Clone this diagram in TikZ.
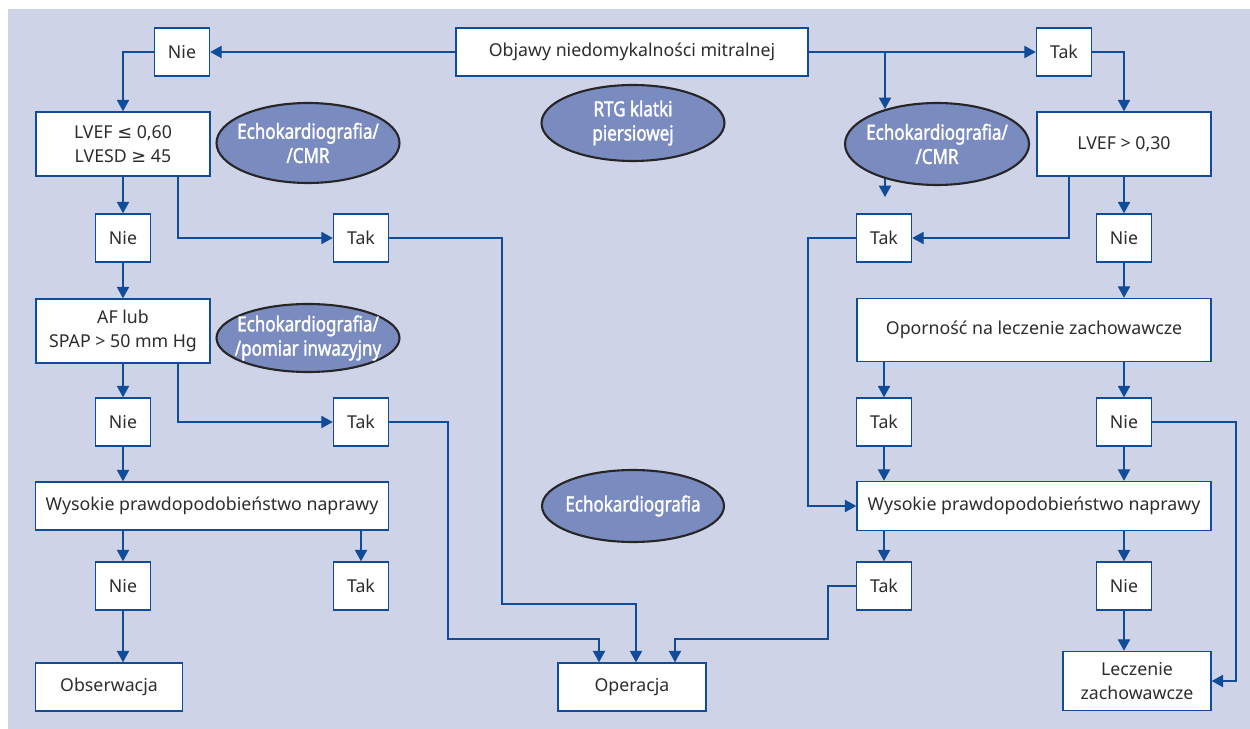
\documentclass[tikz,border=0pt]{standalone}
\usepackage{fontspec}
\setmainfont{Noto Sans}
\newfontfamily\ovalfont[FakeStretch=0.82,FakeBold=1.6]{Noto Sans}
\newfontfamily\symfont{DejaVu Sans}
\usepackage{tikz}
\usetikzlibrary{arrows.meta, shapes}
\usetikzlibrary{calc}
\definecolor{tlo}{RGB}{206,211,232}
\definecolor{linia}{RGB}{16,76,152}
\definecolor{owal}{RGB}{122,139,191}
\definecolor{tekst}{RGB}{45,45,45}
\tikzset{>={Triangle[width=7pt,length=6.5pt]}}

\begin{document}
\begin{tikzpicture}[x=0.02cm,y=-0.02cm,font=\fontsize{10.1}{14}\selectfont]
		\tikzstyle{box}=[draw=linia,fill=white,text=tekst,line width=0.85pt,
			minimum height=0.96cm,inner sep=0pt,align=center]
		\tikzstyle{yn}=[box,minimum width=1.1cm]
		\tikzstyle{oval}=[ellipse,draw=black!85,line width=1.2pt,fill=owal,text=white,
			inner xsep=-9pt,inner ysep=-6pt,align=center,font=\ovalfont\fontsize{11.8}{13.8}\selectfont]
		\tikzstyle{link}=[->,draw=linia,line width=0.7pt]
		
		\useasboundingbox (0,0) rectangle (1250,729);
		\fill[tlo] (8,9) rectangle (1250,729);
		
		% top row
		\node[box,minimum width=7.04cm] (objawy) at (632,52) {Objawy niedomykalności mitralnej};
		\node[yn] (nie0) at (182,52) {Nie};
		\node[yn] (tak0) at (1064,52) {Tak};
		\coordinate (split) at (885,52);
		
		% ovals
		\node[oval,minimum width=3.66cm,minimum height=1.6cm] (echoL) at (308,143) {Echokardiografia/\\/CMR};
		\node[oval,minimum width=3.66cm,minimum height=1.52cm] (rtg) at (633,123) {RTG klatki\\piersiowej};
		\node[oval,minimum width=3.68cm,minimum height=1.64cm] (echoR) at (937,144) {Echokardiografia/\\/CMR};
		\node[oval,minimum width=3.66cm,minimum height=1.36cm] (echoP) at (308,338) {Echokardiografia/\\/pomiar inwazyjny};
		\node[oval,minimum width=3.64cm,minimum height=1.44cm] (echoC) at (633,506) {Echokardiografia};
		\coordinate (echoRin) at (885,109);
		\coordinate (echoRout) at (885,179);
		\coordinate (echoRend) at (885,197);
		
		% left column
		\node[box,minimum width=3.48cm,minimum height=1.28cm] (lvefL) at (123,144) {LVEF {\symfont ≤} 0,60\\LVESD {\symfont ≥} 45};
		\node[yn] (nie1) at (123,238) {Nie};
		\node[yn] (tak1) at (361,238) {Tak};
		\node[box,minimum width=3.48cm,minimum height=1.28cm] (afL) at (123,331) {AF lub\\SPAP > 50 mm Hg};
		\node[yn] (nie3) at (123,422) {Nie};
		\node[yn] (tak3) at (361,422) {Tak};
		\node[box,minimum width=7.06cm] (wysL) at (212,506) {Wysokie prawdopodobieństwo naprawy};
		\node[yn] (nie5) at (123,586) {Nie};
		\node[yn] (tak5) at (361,586) {Tak};
		\node[box,minimum width=2.94cm] (obs) at (109,687) {Obserwacja};
		
		% middle
		\node[box,minimum width=2.96cm] (oper) at (632,687) {Operacja};
		
		% right column
		\node[box,minimum width=3.48cm,minimum height=1.28cm] (lvefR) at (1124,144) {LVEF > 0,30};
		\node[yn] (tak2) at (884,238) {Tak};
		\node[yn] (nie2) at (1124,238) {Nie};
		\node[box,minimum width=7.08cm,minimum height=1.26cm] (oporn) at (1034,330) {Oporność na leczenie zachowawcze};
		\node[yn] (tak4) at (884,422) {Tak};
		\node[yn] (nie4) at (1124,422) {Nie};
		\node[box,minimum width=7.08cm,minimum height=0.98cm] (wysR) at (1034,506) {Wysokie prawdopodobieństwo naprawy};
		\node[yn] (tak6) at (884,586) {Tak};
		\node[yn] (nie6) at (1124,586) {Nie};
		\node[box,minimum width=2.96cm,minimum height=1.18cm] (lecz) at (1137,681) {Leczenie\\zachowawcze};
		
		% connectors
		\draw[link] (objawy.west) -- (nie0.east);
		\draw[link] (objawy.east) -- (tak0.west);
		\draw[link] (split) -- (echoRin);
		\draw[link] (echoRout) -- (echoRend);
		\draw[link] (nie0.west) -| (lvefL.north);
		\draw[link] (tak0.east) -| (lvefR.north);
		
		\draw[link] (lvefL.south) -- (nie1.north);
		\draw[link] ($(lvefL.south)+(55,0)$) |- (tak1.west);
		\draw[link] (nie1.south) -- (afL.north);
		\draw[link] (afL.south) -- (nie3.north);
		\draw[link] ($(afL.south)+(55,0)$) |- (tak3.west);
		\draw[link] (nie3.south) -- (nie3.south |- wysL.north);
		\draw[link] (wysL.south -| nie5.north) -- (nie5.north);
		\draw[link] (wysL.south -| tak5.north) -- (tak5.north);
		\draw[link] (nie5.south) -- (nie5.south |- obs.north);
		
		\draw[link] (tak1.east) -| (502,604) -| ($(oper.north)+(4,0)$);
		\draw[link] (tak3.east) -| (448,639) -| ($(oper.north)+(-33,0)$);
		\draw[link] (tak6.west) -| (828,639) -| ($(oper.north)+(43,0)$);
		
		\draw[link] ($(lvefR.south)+(-55,0)$) |- (tak2.east);
		\draw[link] (lvefR.south) -- (nie2.north);
		\draw[link] (tak2.west) -| (808,506) -- (wysR.west);
		\draw[link] (nie2.south) -- (nie2.south |- oporn.north);
		\draw[link] (oporn.south -| tak4.north) -- (tak4.north);
		\draw[link] (oporn.south -| nie4.north) -- (nie4.north);
		\draw[link] (tak4.south) -- (tak4.south |- wysR.north);
		\draw[link] (nie4.south) -- (nie4.south |- wysR.north);
		\draw[link] (nie4.east) -| (1236,681) -- (lecz.east);
		\draw[link] (wysR.south -| tak6.north) -- (tak6.north);
		\draw[link] (wysR.south -| nie6.north) -- (nie6.north);
		\draw[link] (nie6.south) -- (nie6.south |- lecz.north);
\end{tikzpicture}
\end{document}
